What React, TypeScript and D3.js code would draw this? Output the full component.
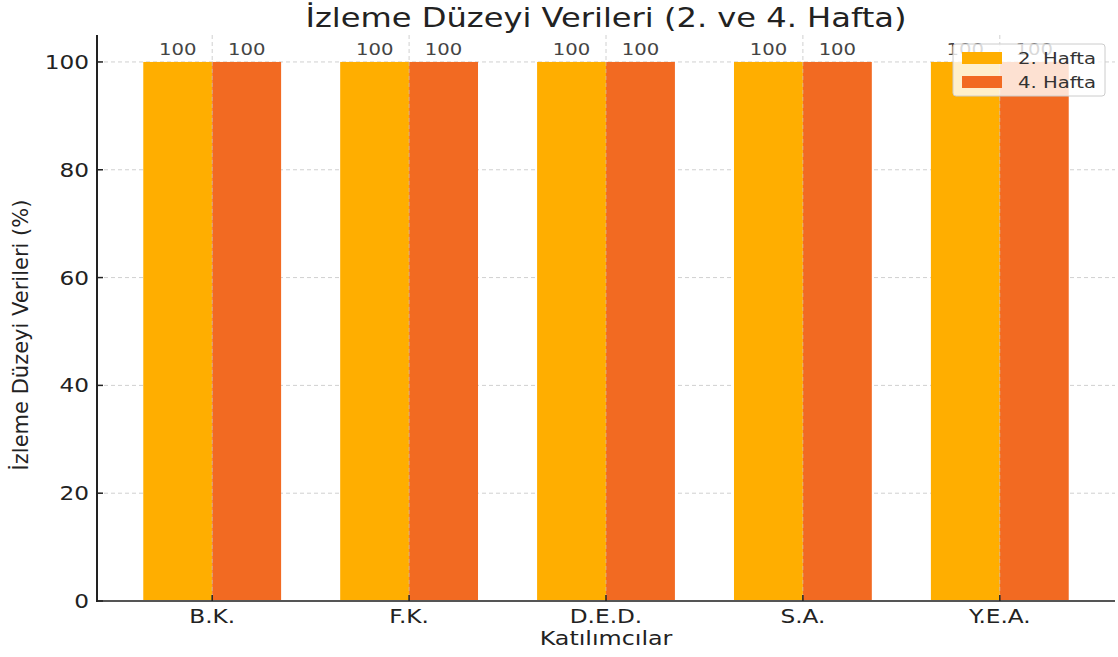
import React from "react";
import * as d3 from "d3";

const categories = ["B.K.", "F.K.", "D.E.D.", "S.A.", "Y.E.A."];
const week2 = [100, 100, 100, 100, 100];
const week4 = [100, 100, 100, 100, 100];
const seriesNames = ["2. Hafta", "4. Hafta"];
const yTicks = [0, 20, 40, 60, 80, 100];

const colors = ["#FFAE00", "#F26A22"];
const font = "DejaVu Sans, Verdana, sans-serif";
// the picture is stretched sideways, so text is too
const sx = 1.19;

const App = () => {
  const width = 1118;
  const height = 657;
  const margin = { top: 35, right: 3, bottom: 56, left: 97 };

  const xScale = d3
    .scaleLinear()
    .domain([-0.585, categories.length - 1 + 0.585])
    .range([margin.left, width - margin.right]);
  const yScale = d3.scaleLinear().domain([0, 105]).range([height - margin.bottom, margin.top]);
  const barW = xScale(0.35) - xScale(0);

  const txt = (x: number, y: number, extra = "", k = sx) => `translate(${x},${y}) scale(${k},1)${extra}`;

  const series = [week2, week4];
  const x0 = margin.left;
  const y0 = yScale(0);
  const midX = (x0 + width - margin.right) / 2;

  return (
    <svg width={width} height={height} style={{ position: "absolute", left: 0, top: 0, background: "#fff" }}>
      {/* grid */}
      {yTicks.map((t) => (
        <line key={"gy" + t} x1={x0} x2={width - margin.right} y1={yScale(t)} y2={yScale(t)}
          stroke="#d0d0d0" strokeDasharray="4,3" strokeWidth={1} />
      ))}
      {categories.map((c, i) => (
        <line key={"gx" + c} x1={xScale(i)} x2={xScale(i)} y1={margin.top} y2={y0}
          stroke="#d0d0d0" strokeDasharray="4,3" strokeWidth={1} />
      ))}

      {/* bars */}
      {series.map((vals, s) =>
        vals.map((v, i) => (
          <rect key={s + "-" + i} x={xScale(i) + (s === 0 ? -barW : 0)} y={yScale(v)}
            width={barW} height={y0 - yScale(v)} fill={colors[s]} />
        ))
      )}
      {categories.map((c, i) => (
        <line key={"bx" + c} x1={xScale(i)} x2={xScale(i)} y1={yScale(100)} y2={y0}
          stroke="#c8c8c8" strokeOpacity={0.6} strokeDasharray="4,3" strokeWidth={1} />
      ))}

      {/* value labels */}
      {series.map((vals, s) =>
        vals.map((v, i) => (
          <text key={"v" + s + "-" + i} transform={txt(xScale(i) + (s === 0 ? -barW / 2 : barW / 2), yScale(v) - 7)}
            textAnchor="middle" fontFamily={font} fontSize={16.5} fill="#444">{v}</text>
        ))
      )}

      {/* axes */}
      <line x1={x0} x2={width - margin.right} y1={y0} y2={y0} stroke="#555" strokeWidth={2} />
      <line x1={x0} x2={x0} y1={margin.top} y2={y0 + 1} stroke="#222" strokeWidth={2} />
      {yTicks.map((t) => (
        <g key={"ty" + t}>
          <line x1={x0} x2={x0 + 6} y1={yScale(t)} y2={yScale(t)} stroke="#222" strokeWidth={1.5} />
          <text transform={txt(x0 - 8, yScale(t) + 7)} textAnchor="end" fontFamily={font} fontSize={19.5} fill="#222">{t}</text>
        </g>
      ))}
      {categories.map((c, i) => (
        <g key={"tx" + c}>
          <line x1={xScale(i)} x2={xScale(i)} y1={y0 - 6} y2={y0} stroke="#222" strokeWidth={1.5} />
          <text transform={txt(xScale(i), y0 + 22)} textAnchor="middle" fontFamily={font} fontSize={19.5} fill="#222">{c}</text>
        </g>
      ))}

      {/* axis titles */}
      <text transform={txt(midX, 645)} textAnchor="middle" fontFamily={font} fontSize={20} fill="#222">Katılımcılar</text>
      <text transform={txt(28, 335, " rotate(-90)", 1)} textAnchor="middle" fontFamily={font} fontSize={21} fill="#222">İzleme Düzeyi Verileri (%)</text>
      <text transform={txt(midX, 27)} textAnchor="middle" fontFamily={font} fontSize={27} fill="#222">İzleme Düzeyi Verileri (2. ve 4. Hafta)</text>

      {/* legend */}
      <g transform="translate(953,44)">
        <rect x={0} y={0} width={152} height={52} rx={3} fill="#fff" fillOpacity={0.8} stroke="#ccc" strokeWidth={1} />
        {seriesNames.map((n, s) => (
          <g key={n} transform={`translate(0,${s * 24})`}>
            <rect x={9} y={8} width={40} height={12} fill={colors[s]} />
            <text transform={txt(65, 19.5)} fontFamily={font} fontSize={16.5} fill="#333">{n}</text>
          </g>
        ))}
      </g>
    </svg>
  );
};

export default App;
